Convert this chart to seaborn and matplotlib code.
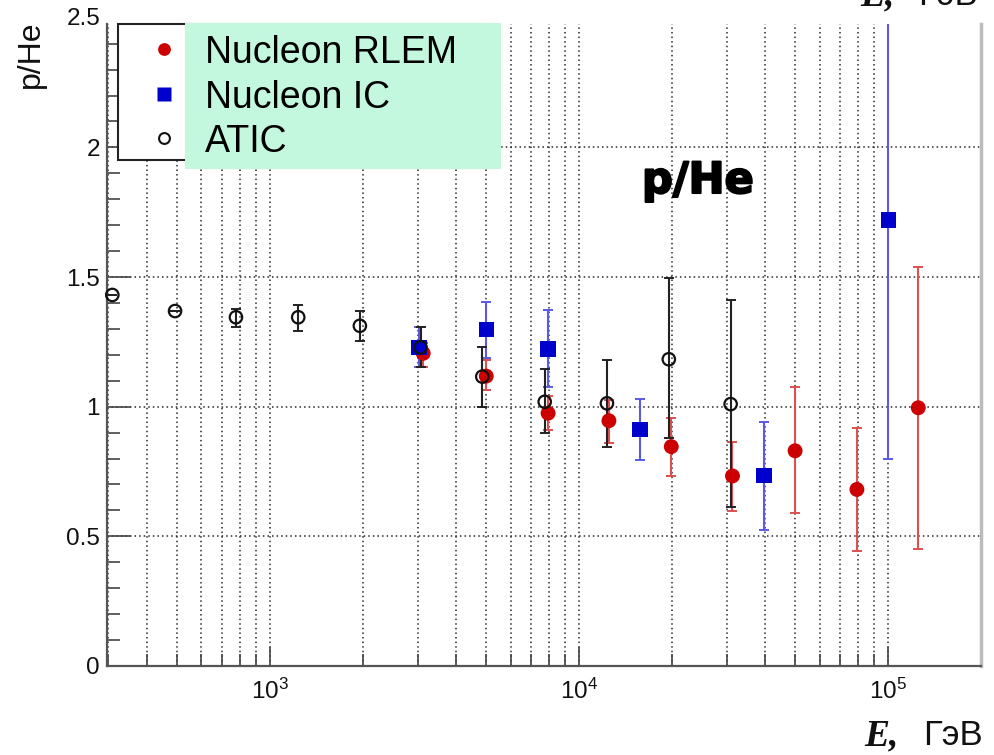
import numpy as np
import pandas as pd
import matplotlib
matplotlib.use('Agg')
import matplotlib.pyplot as plt
import seaborn as sns
from matplotlib.patches import Rectangle
from matplotlib.lines import Line2D
from matplotlib.ticker import LogLocator, MultipleLocator, FuncFormatter, NullFormatter
import matplotlib.patheffects as pe

# ---------------- data ----------------
atic_E = [309, 493, 776, 1234, 1953, 3069, 4860, 7737, 12300, 19500, 30900]
atic_val = [1.431, 1.369, 1.345, 1.345, 1.312, 1.229, 1.116, 1.019, 1.013, 1.183, 1.010]
atic_lo = [1.431, 1.369, 1.309, 1.293, 1.255, 1.154, 1.000, 0.897, 0.846, 0.878, 0.614]
atic_hi = [1.431, 1.369, 1.377, 1.392, 1.370, 1.306, 1.229, 1.144, 1.180, 1.496, 1.411]

rlem_E = [3130, 5006, 7935, 12480, 19860, 31330, 49940, 79150, 125000]
rlem_val = [1.206, 1.118, 0.975, 0.946, 0.846, 0.733, 0.830, 0.681, 0.996]
rlem_lo = [1.154, 1.064, 0.910, 0.859, 0.733, 0.598, 0.589, 0.445, 0.450]
rlem_hi = [1.246, 1.180, 1.040, 1.026, 0.958, 0.865, 1.075, 0.917, 1.540]

ic_E = [3037, 5012, 7935, 15720, 39680, 100000]
ic_val = [1.229, 1.298, 1.223, 0.913, 0.734, 1.720]
ic_lo = [1.152, 1.187, 1.077, 0.794, 0.524, 0.800]
ic_hi = [1.309, 1.405, 1.373, 1.030, 0.940, 2.600]

series_labels = ["Nucleon RLEM", "Nucleon IC", "ATIC"]
title_text = "p/He"
y_label = "p/He"
x_label_sym = "E,"
x_label_unit = "ГэВ"

# ---------------- style ----------------
sns.set_theme(style='white')
plt.rcParams['font.family'] = ['Liberation Sans', 'DejaVu Sans']
plt.rcParams['mathtext.fontset'] = 'custom'
plt.rcParams['mathtext.rm'] = 'Liberation Sans'
plt.rcParams['mathtext.it'] = 'Liberation Sans:italic'
plt.rcParams['mathtext.bf'] = 'Liberation Sans:bold'
plt.rcParams['mathtext.default'] = 'regular'

W, H = 995, 755
fig = plt.figure(figsize=(W / 100, H / 100), dpi=100)
fig.patch.set_facecolor('white')

def fx(px):
    return px / W

def fy(py):
    return 1 - py / H

ax_l, ax_r, ax_t, ax_b = 107, 980.7, 24, 666
ax = fig.add_axes([fx(ax_l), fy(ax_b), fx(ax_r - ax_l), (ax_b - ax_t) / H])
ax.set_facecolor('white')

def draw_err(E, val, lo, hi, color, z):
    v = np.array(val); l = np.array(lo); h = np.array(hi)
    ax.errorbar(E, v, yerr=[v - l, h - v], fmt='none', ecolor=color,
                elinewidth=1.5, capsize=3.5, capthick=1.4, zorder=z)

draw_err(rlem_E, rlem_val, rlem_lo, rlem_hi, '#dd5050', 3)
draw_err(ic_E, ic_val, ic_lo, ic_hi, '#5a5ae6', 3)
draw_err(atic_E, atic_val, atic_lo, atic_hi, '#222222', 3)

sns.scatterplot(x=rlem_E, y=rlem_val, ax=ax, color='#cc0000', marker='o', s=115,
                edgecolor='none', zorder=4, legend=False)
sns.scatterplot(x=ic_E, y=ic_val, ax=ax, color='#0000cc', marker='s', s=125,
                edgecolor='none', zorder=5, legend=False)
sns.scatterplot(x=atic_E, y=atic_val, ax=ax, color='black', marker='o', s=80,
                facecolor='none', edgecolor='#111111', linewidth=1.6, zorder=6, legend=False,
                clip_on=False)

ax.set_xscale('log')
ax.set_xlim(297, 199000)
ax.set_ylim(0, 2.476)

ax.xaxis.set_major_locator(LogLocator(base=10, numticks=10))
ax.xaxis.set_minor_locator(LogLocator(base=10, subs=np.arange(2, 10), numticks=20))
ax.xaxis.set_major_formatter(FuncFormatter(lambda v, p: r'$10^{%d}$' % int(round(np.log10(v)))))
ax.xaxis.set_minor_formatter(NullFormatter())
ax.yaxis.set_major_locator(MultipleLocator(0.5))
ax.yaxis.set_minor_locator(MultipleLocator(0.1))
ax.yaxis.set_major_formatter(FuncFormatter(lambda v, p: ('%g' % v)))

ax.tick_params(axis='x', which='major', direction='in', length=13.5, width=1.2,
               color='#444444', pad=9, labelsize=17.5, labelcolor='#111111', bottom=True, top=False)
ax.tick_params(axis='x', which='minor', direction='in', length=8.6, width=1.2,
               color='#444444', bottom=True, top=False)
ax.tick_params(axis='y', which='major', direction='in', length=17, width=1.2,
               color='#444444', pad=5, labelsize=17.5, labelcolor='#111111', left=True, right=False)
ax.tick_params(axis='y', which='minor', direction='in', length=9.4, width=1.2,
               color='#444444', left=True, right=False)

grid_kw = dict(linestyle=(0, (1, 2.0)), color='#2a2a2a', linewidth=1.1)
ax.grid(True, which='both', axis='x', **grid_kw)
ax.grid(True, which='major', axis='y', **grid_kw)
ax.set_axisbelow(True)

ax.spines['top'].set_visible(False)
ax.spines['right'].set_color('#bbbbbb')
ax.spines['right'].set_linewidth(2.5)
for s in ['left', 'bottom']:
    ax.spines[s].set_color('#555555')
    ax.spines[s].set_linewidth(1.6)

# top tick label 2.5 (frame is cropped at the top)
fig.text(fx(101), fy(19), '2.5', ha='right', va='center', fontsize=17.5, color='#111111')

# axis labels
fig.text(fx(31), fy(20), y_label, rotation=90, ha='center', va='top', fontsize=23, color='#111111')
fig.text(fx(899), fy(745), x_label_sym, ha='right', va='baseline', fontsize=27,
         family='Liberation Serif', weight='bold', style='italic', color='#111111')
fig.text(fx(983), fy(745), x_label_unit, ha='right', va='baseline', fontsize=25, color='#111111')
# cropped duplicate at top right
fig.text(fx(895), fy(5), x_label_sym, ha='right', va='baseline', fontsize=27,
         family='Liberation Serif', weight='bold', style='italic', color='#111111')
fig.text(fx(978), fy(5), x_label_unit, ha='right', va='baseline', fontsize=25, color='#111111')

# big in-plot title
fig.text(fx(642), fy(193), title_text, ha='left', va='baseline', fontsize=31,
         family='DejaVu Sans', weight='bold', color='black',
         path_effects=[pe.withStroke(linewidth=1.5, foreground='black')])

# legend (ROOT box + green overlay)
fig.add_artist(Rectangle((fx(118), fy(160)), fx(480 - 118), (160 - 24) / H,
                         transform=fig.transFigure, facecolor='white', edgecolor='#222222',
                         linewidth=1.5, zorder=8))
fig.add_artist(Rectangle((fx(185), fy(169)), fx(501 - 185), (169 - 23) / H,
                         transform=fig.transFigure, facecolor='#c3f8df', edgecolor='none',
                         zorder=9))
leg_y = [49, 94, 138]
leg_base = [63.3, 108.3, 152.5]
leg_style = [dict(marker='o', markersize=9.2, color='#cc0000', markeredgecolor='none'),
             dict(marker='s', markersize=10, color='#0000cc', markeredgecolor='none'),
             dict(marker='o', markersize=7.8, markerfacecolor='none', markeredgecolor='#111111',
                  markeredgewidth=1.5)]
for yy, yb, lab, st in zip(leg_y, leg_base, series_labels, leg_style):
    fig.add_artist(Line2D([fx(164)], [fy(yy)], transform=fig.transFigure, linestyle='none',
                          zorder=10, **st))
    fig.text(fx(205), fy(yb), lab, ha='left', va='baseline', fontsize=27, color='black', zorder=11)

fig.savefig('out.png', dpi=100, facecolor='white')
